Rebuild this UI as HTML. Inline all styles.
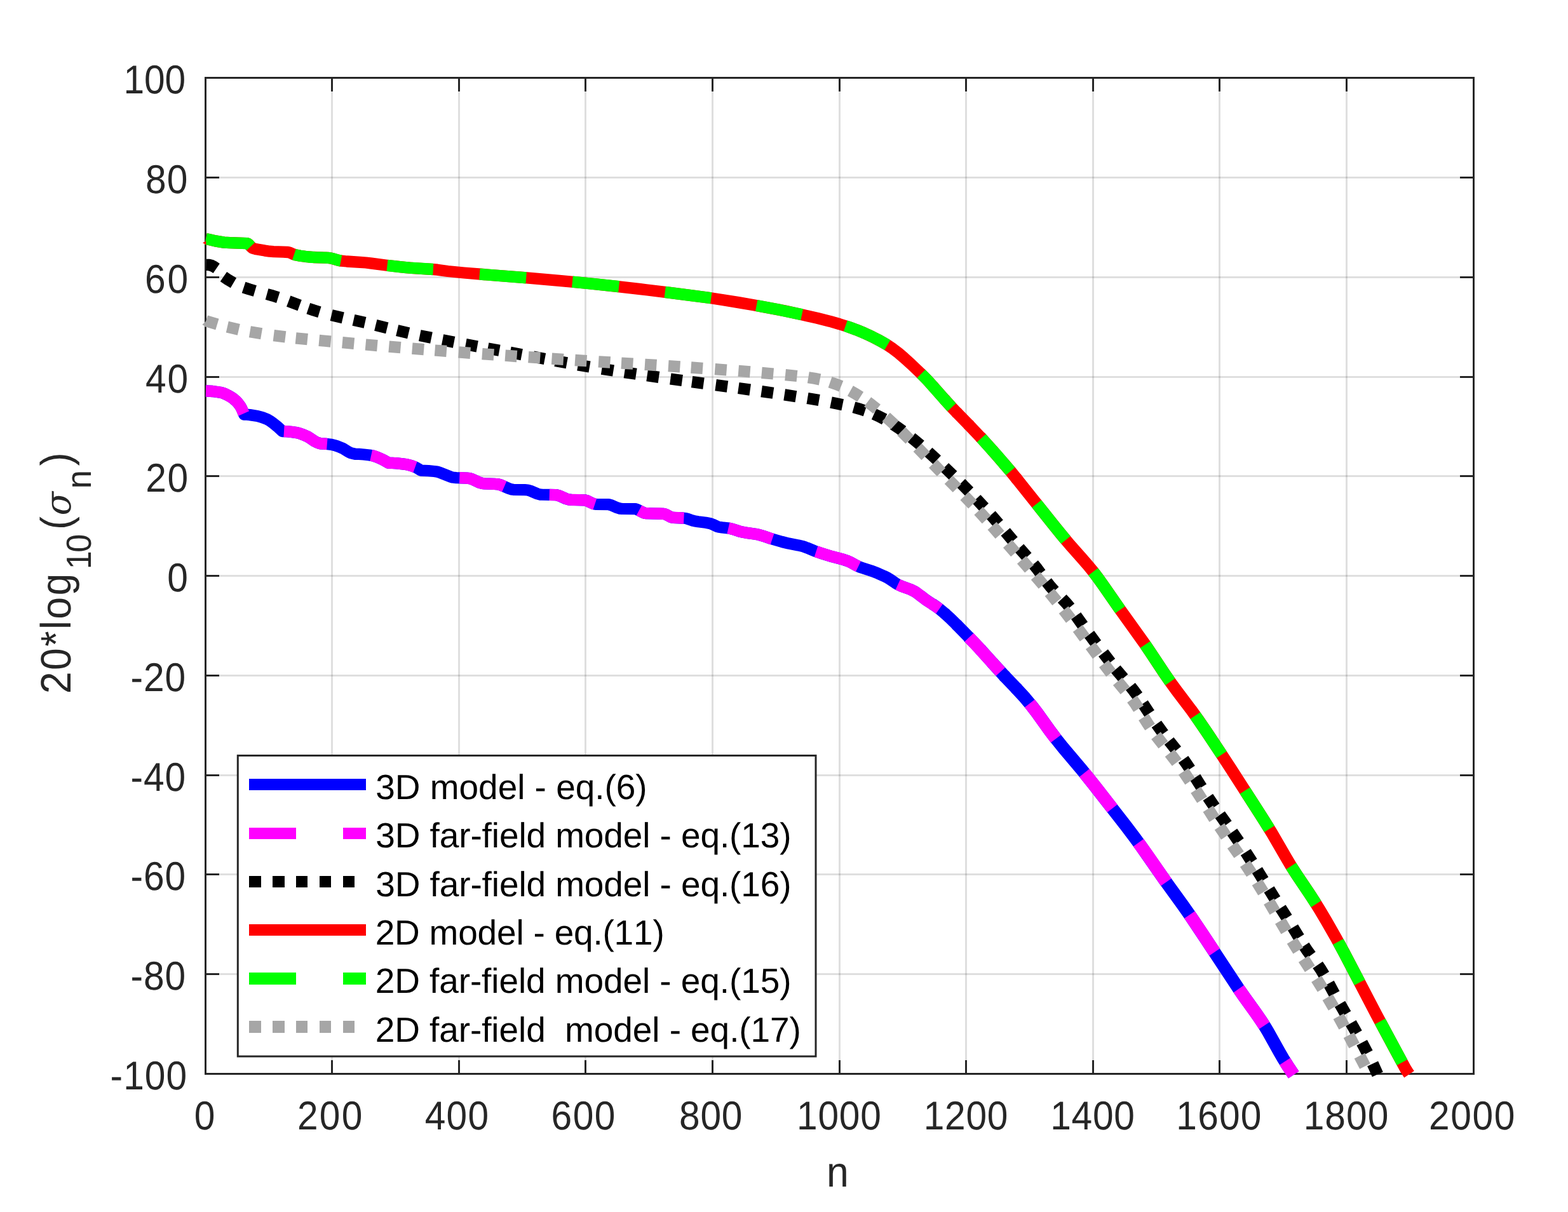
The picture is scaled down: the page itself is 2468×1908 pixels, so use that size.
<!DOCTYPE html>
<html lang="en"><head><meta charset="utf-8"><title>Singular values: 20*log10(sigma_n) versus n</title>
<style>html,body{margin:0;padding:0;background:#fff}body{width:2468px;height:1908px;overflow:hidden}svg{display:block}text{font-family:"Liberation Sans", sans-serif;font-kerning:none;font-variant-ligatures:none;text-rendering:geometricPrecision}</style>
</head><body>
<svg xmlns="http://www.w3.org/2000/svg" width="2468" height="1908" viewBox="0 0 2468 1908">
<rect x="0" y="0" width="2468" height="1908" fill="#ffffff"/>
<g stroke="#262626" stroke-opacity="0.15" stroke-width="3" fill="none">
<line x1="522.5" y1="124.0" x2="522.5" y2="1689.0"/>
<line x1="722.5" y1="124.0" x2="722.5" y2="1689.0"/>
<line x1="921.5" y1="124.0" x2="921.5" y2="1689.0"/>
<line x1="1121.5" y1="124.0" x2="1121.5" y2="1689.0"/>
<line x1="1321.5" y1="124.0" x2="1321.5" y2="1689.0"/>
<line x1="1520.5" y1="124.0" x2="1520.5" y2="1689.0"/>
<line x1="1720.5" y1="124.0" x2="1720.5" y2="1689.0"/>
<line x1="1919.5" y1="124.0" x2="1919.5" y2="1689.0"/>
<line x1="2119.5" y1="124.0" x2="2119.5" y2="1689.0"/>
<line x1="325.0" y1="279.5" x2="2318.0" y2="279.5"/>
<line x1="325.0" y1="436.5" x2="2318.0" y2="436.5"/>
<line x1="325.0" y1="593.5" x2="2318.0" y2="593.5"/>
<line x1="325.0" y1="749.5" x2="2318.0" y2="749.5"/>
<line x1="325.0" y1="906.5" x2="2318.0" y2="906.5"/>
<line x1="325.0" y1="1063.5" x2="2318.0" y2="1063.5"/>
<line x1="325.0" y1="1220.5" x2="2318.0" y2="1220.5"/>
<line x1="325.0" y1="1376.5" x2="2318.0" y2="1376.5"/>
<line x1="325.0" y1="1533.5" x2="2318.0" y2="1533.5"/>
</g>
<g stroke="#262626" stroke-width="3" fill="none">
<rect x="323.5" y="122.5" width="1996.0" height="1568.0"/>
<line x1="522.5" y1="1690.5" x2="522.5" y2="1669.0"/>
<line x1="522.5" y1="122.5" x2="522.5" y2="144.0"/>
<line x1="722.5" y1="1690.5" x2="722.5" y2="1669.0"/>
<line x1="722.5" y1="122.5" x2="722.5" y2="144.0"/>
<line x1="921.5" y1="1690.5" x2="921.5" y2="1669.0"/>
<line x1="921.5" y1="122.5" x2="921.5" y2="144.0"/>
<line x1="1121.5" y1="1690.5" x2="1121.5" y2="1669.0"/>
<line x1="1121.5" y1="122.5" x2="1121.5" y2="144.0"/>
<line x1="1321.5" y1="1690.5" x2="1321.5" y2="1669.0"/>
<line x1="1321.5" y1="122.5" x2="1321.5" y2="144.0"/>
<line x1="1520.5" y1="1690.5" x2="1520.5" y2="1669.0"/>
<line x1="1520.5" y1="122.5" x2="1520.5" y2="144.0"/>
<line x1="1720.5" y1="1690.5" x2="1720.5" y2="1669.0"/>
<line x1="1720.5" y1="122.5" x2="1720.5" y2="144.0"/>
<line x1="1919.5" y1="1690.5" x2="1919.5" y2="1669.0"/>
<line x1="1919.5" y1="122.5" x2="1919.5" y2="144.0"/>
<line x1="2119.5" y1="1690.5" x2="2119.5" y2="1669.0"/>
<line x1="2119.5" y1="122.5" x2="2119.5" y2="144.0"/>
<line x1="323.5" y1="279.5" x2="345.0" y2="279.5"/>
<line x1="2319.5" y1="279.5" x2="2298.0" y2="279.5"/>
<line x1="323.5" y1="436.5" x2="345.0" y2="436.5"/>
<line x1="2319.5" y1="436.5" x2="2298.0" y2="436.5"/>
<line x1="323.5" y1="593.5" x2="345.0" y2="593.5"/>
<line x1="2319.5" y1="593.5" x2="2298.0" y2="593.5"/>
<line x1="323.5" y1="749.5" x2="345.0" y2="749.5"/>
<line x1="2319.5" y1="749.5" x2="2298.0" y2="749.5"/>
<line x1="323.5" y1="906.5" x2="345.0" y2="906.5"/>
<line x1="2319.5" y1="906.5" x2="2298.0" y2="906.5"/>
<line x1="323.5" y1="1063.5" x2="345.0" y2="1063.5"/>
<line x1="2319.5" y1="1063.5" x2="2298.0" y2="1063.5"/>
<line x1="323.5" y1="1220.5" x2="345.0" y2="1220.5"/>
<line x1="2319.5" y1="1220.5" x2="2298.0" y2="1220.5"/>
<line x1="323.5" y1="1376.5" x2="345.0" y2="1376.5"/>
<line x1="2319.5" y1="1376.5" x2="2298.0" y2="1376.5"/>
<line x1="323.5" y1="1533.5" x2="345.0" y2="1533.5"/>
<line x1="2319.5" y1="1533.5" x2="2298.0" y2="1533.5"/>
</g>
<g id="curves" fill="none" stroke-linejoin="round">
<path d="M324.0,615.5 L328.5,615.6 L334.5,616.0 L346.6,617.7 L349.6,618.4 L352.6,619.4 L358.6,622.2 L364.6,625.7 L367.6,627.8 L372.2,631.9 L375.2,635.3 L378.2,639.4 L379.7,642.0 L381.2,645.2 L384.2,652.5 L388.7,652.7 L393.3,653.1 L405.3,655.0 L412.9,657.1 L420.4,660.0 L425.0,662.6 L429.5,665.9 L437.1,672.0 L444.6,679.0 L450.6,679.2 L458.0,679.9 L466.9,681.1 L471.4,682.2 L477.3,684.4 L484.8,687.7 L487.7,689.5 L495.2,694.6 L498.2,696.1 L501.1,697.3 L504.1,698.3 L511.5,698.6 L521.9,699.8 L527.9,701.3 L532.3,702.9 L539.8,706.0 L548.7,711.5 L551.7,712.9 L554.6,713.8 L559.1,714.8 L565.1,714.9 L572.5,715.5 L581.5,716.5 L587.4,717.6 L593.4,719.6 L600.9,722.8 L605.3,725.1 L611.3,728.7 L617.3,728.8 L624.9,729.4 L633.9,730.4 L641.4,731.5 L647.4,733.1 L655.0,736.1 L658.0,737.7 L662.5,740.6 L674.5,741.1 L683.5,742.0 L688.0,742.6 L692.5,744.0 L709.0,750.6 L712.0,751.5 L718.0,752.1 L734.5,752.6 L739.0,753.1 L743.5,754.5 L754.0,759.4 L758.5,760.8 L763.0,761.3 L778.0,761.8 L784.0,762.3 L788.5,763.6 L800.5,768.9 L805.0,770.4 L808.0,770.8 L826.0,771.1 L830.5,771.5 L835.0,772.8 L845.5,777.2 L850.0,778.5 L853.0,778.7 L875.5,779.2 L880.0,780.4 L890.5,785.0 L894.9,786.4 L899.4,786.9 L920.4,787.3 L921.9,787.6 L924.9,788.7 L932.4,792.4 L935.4,793.5 L938.4,793.9 L957.9,794.2 L962.4,795.4 L971.4,799.3 L975.9,800.6 L978.9,800.9 L999.9,801.2 L1001.4,801.6 L1004.4,802.8 L1011.9,806.7 L1014.9,807.7 L1016.4,808.0 L1044.9,808.9 L1047.9,809.8 L1055.4,813.8 L1058.4,814.7 L1062.9,815.1 L1074.9,815.5 L1079.4,816.0 L1082.4,816.8 L1089.9,819.5 L1092.9,820.2 L1098.9,821.2 L1110.9,822.8 L1118.4,824.2 L1121.4,825.4 L1128.9,828.9 L1131.9,829.8 L1136.4,830.4 L1145.4,831.3 L1148.4,831.8 L1152.9,832.9 L1163.4,836.3 L1167.9,837.5 L1173.9,838.6 L1188.9,840.7 L1194.9,841.9 L1200.9,843.7 L1214.4,848.3 L1230.9,853.0 L1241.4,855.6 L1256.4,858.4 L1263.9,860.2 L1269.9,862.3 L1281.9,867.3 L1290.9,870.4 L1310.4,876.4 L1328.4,881.2 L1334.4,883.2 L1338.9,885.3 L1347.9,890.2 L1352.3,892.3 L1356.8,893.9 L1373.3,899.2 L1382.3,902.8 L1391.3,906.8 L1397.3,909.8 L1400.3,911.6 L1409.3,917.8 L1413.8,920.5 L1419.8,923.2 L1433.3,928.0 L1439.3,930.9 L1443.8,933.9 L1451.0,939.4" stroke="#0000ff" stroke-width="18.3"/>
<path d="M1449.0,937.8 L1457.3,944.3 L1469.8,952.4" stroke="#0000ff" stroke-width="18.4"/>
<path d="M1467.8,951.1 L1473.8,955.1 L1478.3,958.4 L1488.5,966.9" stroke="#0000ff" stroke-width="18.6"/>
<path d="M1486.5,965.1 L1496.3,974.1 L1507.2,984.9" stroke="#0000ff" stroke-width="18.8"/>
<path d="M1505.2,982.9 L1526.0,1004.2" stroke="#0000ff" stroke-width="19.0"/>
<path d="M1524.0,1002.2 L1533.8,1012.4 L1544.8,1024.2" stroke="#0000ff" stroke-width="19.3"/>
<path d="M1542.8,1022.0 L1563.5,1045.1" stroke="#0000ff" stroke-width="19.5"/>
<path d="M1561.5,1042.8 L1582.2,1065.5" stroke="#0000ff" stroke-width="19.7"/>
<path d="M1580.2,1063.3 L1601.0,1085.1" stroke="#0000ff" stroke-width="19.9"/>
<path d="M1599.0,1083.0 L1613.3,1098.6 L1623.8,1111.1 L1632.8,1122.9 L1652.3,1150.1 L1661.3,1162.1 L1673.3,1177.0 L1703.3,1212.5 L1721.3,1234.9 L1772.3,1300.4 L1785.8,1318.3 L1796.3,1332.6 L1833.7,1386.2 L1862.2,1425.7 L1874.2,1442.8 L1896.7,1476.3 L1949.2,1556.1 L1958.2,1569.0 L1976.2,1594.0 L1985.2,1607.1 L1991.2,1616.4 L1995.7,1623.9 L2013.7,1656.1 L2019.7,1666.5 L2027.2,1678.5 L2036.2,1692.0" stroke="#0000ff" stroke-width="20.0"/>
<path d="M324.0,615.5 L328.5,615.6 L334.5,616.0 L340.6,616.8 L348.1,618.0 L351.1,618.8 L354.1,620.0 L357.1,621.4 L361.6,623.9 L366.1,626.7 L369.1,629.1 L372.2,631.9 L375.2,635.3 L378.2,639.4 L379.7,642.0 L383.6,651.0" stroke="#ff00ff" stroke-width="18.3"/>
<path d="M447.0,679.0 L453.5,679.4 L461.0,680.2 L466.9,681.1 L471.4,682.2 L477.3,684.4 L484.8,687.7 L487.7,689.5 L495.2,694.6 L498.2,696.1 L501.1,697.3 L504.1,698.3 L508.6,698.4 L514.8,698.9" stroke="#ff00ff" stroke-width="18.3"/>
<path d="M584.2,716.9 L587.4,717.6 L590.4,718.4 L599.4,722.1 L605.3,725.1 L611.3,728.7 L617.3,728.8 L624.9,729.4 L639.9,731.2 L645.9,732.7 L653.4,735.4" stroke="#ff00ff" stroke-width="18.3"/>
<path d="M723.3,752.2 L734.5,752.6 L739.0,753.1 L743.5,754.5 L754.0,759.4 L758.5,760.8 L763.0,761.3 L778.0,761.8 L784.0,762.3 L788.5,763.6 L793.8,765.9" stroke="#ff00ff" stroke-width="18.3"/>
<path d="M864.8,778.9 L874.0,779.1 L877.0,779.5 L881.5,780.9 L891.9,785.5 L896.4,786.7 L918.9,787.3 L921.9,787.6 L924.9,788.7 L932.4,792.4 L936.3,793.7" stroke="#ff00ff" stroke-width="18.3"/>
<path d="M1005.9,803.5 L1011.9,806.7 L1014.9,807.7 L1016.4,808.0 L1020.9,808.2 L1037.4,808.5 L1044.9,808.9 L1047.9,809.8 L1055.4,813.8 L1058.4,814.7 L1076.4,815.6" stroke="#ff00ff" stroke-width="18.3"/>
<path d="M1146.4,831.4 L1152.9,832.9 L1163.4,836.3 L1167.9,837.5 L1173.9,838.6 L1188.9,840.7 L1194.9,841.9 L1200.9,843.7 L1215.5,848.6" stroke="#ff00ff" stroke-width="18.3"/>
<path d="M1284.5,868.2 L1295.4,871.8 L1308.9,875.9 L1326.9,880.7 L1332.9,882.6 L1337.4,884.5 L1347.9,890.2 L1351.0,891.7" stroke="#ff00ff" stroke-width="18.3"/>
<path d="M1413.3,920.2 L1419.8,923.2 L1433.3,928.0 L1439.3,930.9 L1445.3,935.0 L1457.3,944.3 L1472.3,954.1 L1478.5,958.5" stroke="#ff00ff" stroke-width="18.3"/>
<path d="M1525.3,1003.5 L1541.3,1020.5 L1574.8,1057.5" stroke="#ff00ff" stroke-width="19.4"/>
<path d="M1620.8,1107.4 L1631.3,1120.9 L1652.3,1150.1 L1661.9,1162.9" stroke="#ff00ff" stroke-width="20.0"/>
<path d="M1706.8,1216.8 L1725.8,1240.6 L1750.8,1272.7" stroke="#ff00ff" stroke-width="20.0"/>
<path d="M1792.0,1326.7 L1805.3,1345.2 L1835.5,1388.7" stroke="#ff00ff" stroke-width="20.0"/>
<path d="M1872.4,1440.2 L1887.7,1462.7 L1911.7,1498.9" stroke="#ff00ff" stroke-width="20.0"/>
<path d="M1949.7,1556.8 L1958.2,1569.0 L1979.2,1598.3 L1990.0,1614.5" stroke="#ff00ff" stroke-width="20.0"/>
<path d="M2022.4,1671.0 L2028.7,1680.8 L2036.2,1692.0" stroke="#ff00ff" stroke-width="20.0"/>
<path d="M324.6,416.8 L329.0,417.0 L333.0,418.0 L337.0,420.0 L340.7,422.5" stroke="#000000" stroke-width="18.3"/>
<path d="M351.9,435.4 L359.1,440.4 L367.5,445.3" stroke="#000000" stroke-width="18.3"/>
<path d="M383.6,452.5 L392.1,455.3 L401.3,458.0" stroke="#000000" stroke-width="18.3"/>
<path d="M420.1,463.0 L429.6,465.6 L437.8,468.2" stroke="#000000" stroke-width="18.3"/>
<path d="M454.2,474.1 L471.6,480.6" stroke="#000000" stroke-width="18.3"/>
<path d="M485.3,485.6 L494.0,488.5 L502.9,491.2" stroke="#000000" stroke-width="18.3"/>
<path d="M521.7,496.1 L539.7,500.3" stroke="#000000" stroke-width="18.3"/>
<path d="M556.5,503.9 L574.5,507.9" stroke="#000000" stroke-width="18.3"/>
<path d="M591.3,511.9 L609.3,516.3" stroke="#000000" stroke-width="18.3"/>
<path d="M625.2,520.1 L643.2,524.3" stroke="#000000" stroke-width="18.3"/>
<path d="M660.8,528.1 L679.0,531.8" stroke="#000000" stroke-width="18.3"/>
<path d="M696.5,535.2 L714.6,538.7" stroke="#000000" stroke-width="18.3"/>
<path d="M733.0,542.1 L751.2,545.4" stroke="#000000" stroke-width="18.3"/>
<path d="M767.8,548.4 L786.0,551.7" stroke="#000000" stroke-width="18.3"/>
<path d="M803.0,554.8 L821.2,558.2" stroke="#000000" stroke-width="18.3"/>
<path d="M839.3,561.6 L857.5,565.0" stroke="#000000" stroke-width="18.3"/>
<path d="M874.1,568.0 L892.3,571.3" stroke="#000000" stroke-width="18.3"/>
<path d="M909.8,574.4 L928.0,577.5" stroke="#000000" stroke-width="18.3"/>
<path d="M947.3,580.6 L965.5,583.5" stroke="#000000" stroke-width="18.3"/>
<path d="M983.0,586.1 L1001.3,588.8" stroke="#000000" stroke-width="18.3"/>
<path d="M1018.6,591.3 L1037.0,593.9" stroke="#000000" stroke-width="18.3"/>
<path d="M1055.3,596.5 L1073.7,599.0" stroke="#000000" stroke-width="18.3"/>
<path d="M1089.1,601.1 L1107.5,603.6" stroke="#000000" stroke-width="18.3"/>
<path d="M1126.6,606.1 L1145.0,608.6" stroke="#000000" stroke-width="18.3"/>
<path d="M1162.3,611.0 L1180.7,613.6" stroke="#000000" stroke-width="18.3"/>
<path d="M1198.6,616.1 L1217.0,618.8" stroke="#000000" stroke-width="18.3"/>
<path d="M1234.7,621.4 L1252.9,624.2" stroke="#000000" stroke-width="18.3"/>
<path d="M1271.0,627.0 L1289.2,630.1" stroke="#000000" stroke-width="18.3"/>
<path d="M1308.0,633.5 L1326.2,637.2" stroke="#000000" stroke-width="18.3"/>
<path d="M1343.9,641.3 L1353.3,643.9 L1361.6,646.6" stroke="#000000" stroke-width="18.3"/>
<path d="M1375.6,651.9 L1383.3,655.4 L1392.2,660.0" stroke="#000000" stroke-width="18.3"/>
<path d="M1405.8,668.1 L1413.2,673.0 L1421.0,678.5" stroke="#000000" stroke-width="18.3"/>
<path d="M1434.7,689.0 L1448.9,700.8" stroke="#000000" stroke-width="18.3"/>
<path d="M1461.2,711.6 L1474.8,724.1" stroke="#000000" stroke-width="18.3"/>
<path d="M1486.7,735.5 L1500.0,748.4" stroke="#000000" stroke-width="18.4"/>
<path d="M1512.5,760.6 L1525.5,773.8" stroke="#000000" stroke-width="18.5"/>
<path d="M1536.6,785.3 L1549.2,798.9" stroke="#000000" stroke-width="18.5"/>
<path d="M1559.7,810.6 L1571.8,824.5" stroke="#000000" stroke-width="18.6"/>
<path d="M1582.6,837.3 L1594.6,851.5" stroke="#000000" stroke-width="18.7"/>
<path d="M1604.3,862.8 L1616.6,876.6" stroke="#000000" stroke-width="18.7"/>
<path d="M1626.6,888.1 L1632.2,895.0 L1637.9,902.7" stroke="#000000" stroke-width="18.7"/>
<path d="M1647.6,916.1 L1653.2,923.2 L1659.5,930.3" stroke="#000000" stroke-width="18.7"/>
<path d="M1671.7,942.3 L1678.7,949.8 L1683.9,956.2" stroke="#000000" stroke-width="18.7"/>
<path d="M1693.6,969.4 L1704.4,984.5" stroke="#000000" stroke-width="18.7"/>
<path d="M1714.6,998.6 L1725.6,1013.5" stroke="#000000" stroke-width="18.7"/>
<path d="M1736.5,1027.9 L1747.8,1042.6" stroke="#000000" stroke-width="18.7"/>
<path d="M1756.3,1053.4 L1768.2,1067.6" stroke="#000000" stroke-width="18.7"/>
<path d="M1779.4,1080.8 L1785.1,1088.1 L1790.6,1095.5" stroke="#000000" stroke-width="18.7"/>
<path d="M1798.9,1107.6 L1809.1,1123.1" stroke="#000000" stroke-width="18.7"/>
<path d="M1820.3,1139.9 L1831.1,1154.9" stroke="#000000" stroke-width="18.7"/>
<path d="M1840.1,1166.5 L1851.7,1181.0" stroke="#000000" stroke-width="18.7"/>
<path d="M1862.6,1195.3 L1867.6,1202.5 L1873.0,1210.6" stroke="#000000" stroke-width="18.7"/>
<path d="M1881.3,1223.7 L1891.1,1239.4" stroke="#000000" stroke-width="18.7"/>
<path d="M1901.3,1255.0 L1911.6,1270.3" stroke="#000000" stroke-width="18.7"/>
<path d="M1920.2,1282.6 L1931.0,1297.7" stroke="#000000" stroke-width="18.7"/>
<path d="M1939.5,1309.9 L1950.0,1325.1" stroke="#000000" stroke-width="18.7"/>
<path d="M1960.7,1341.5 L1970.7,1357.1" stroke="#000000" stroke-width="18.7"/>
<path d="M1978.8,1369.9 L1988.5,1385.6" stroke="#000000" stroke-width="18.7"/>
<path d="M1997.5,1400.1 L2007.2,1415.9" stroke="#000000" stroke-width="18.7"/>
<path d="M2015.7,1429.5 L2025.6,1445.1" stroke="#000000" stroke-width="18.7"/>
<path d="M2035.0,1460.0 L2044.6,1475.8" stroke="#000000" stroke-width="18.7"/>
<path d="M2052.6,1488.9 L2058.0,1497.1 L2063.1,1504.1" stroke="#000000" stroke-width="18.7"/>
<path d="M2074.1,1519.0 L2079.0,1526.3 L2084.0,1534.6" stroke="#000000" stroke-width="18.7"/>
<path d="M2091.4,1548.3 L2100.2,1564.6" stroke="#000000" stroke-width="18.7"/>
<path d="M2109.0,1580.5 L2118.2,1596.5" stroke="#000000" stroke-width="18.7"/>
<path d="M2126.4,1610.7 L2135.6,1626.8" stroke="#000000" stroke-width="18.7"/>
<path d="M2143.6,1641.4 L2152.3,1657.8" stroke="#000000" stroke-width="18.7"/>
<path d="M2160.6,1674.5 L2168.3,1691.3" stroke="#000000" stroke-width="18.7"/>
<path d="M324.0,376.0 L328.5,376.9 L339.0,379.4 L352.5,381.6 L361.5,382.2 L388.5,383.2 L390.0,383.6 L391.5,384.7 L396.0,389.4 L397.5,390.5 L400.5,391.5 L403.5,392.3 L417.0,394.6 L424.5,395.7 L430.5,396.1 L445.5,396.6 L453.0,397.0 L456.0,397.7 L462.0,400.3 L465.0,401.3 L472.5,402.7 L480.0,403.8 L493.5,405.0 L517.4,405.9 L521.9,406.7 L532.4,409.8 L536.9,410.7 L545.9,411.5 L566.9,412.8 L575.9,413.5 L584.9,414.6 L608.9,417.8 L638.9,421.2 L650.9,422.2 L682.4,424.1 L688.4,424.7 L704.9,427.0 L730.4,429.5 L766.4,432.5 L826.4,437.1 L880.4,441.8 L925.3,446.0 L974.8,451.3 L1007.8,455.1 L1052.8,460.6 L1115.8,468.8 L1138.3,472.2 L1162.3,476.1 L1186.3,480.2 L1211.8,484.9 L1235.8,489.6 L1256.8,494.1 L1286.7,500.9 L1306.2,505.8 L1321.2,510.1 L1334.7,514.4 L1348.2,519.3 L1360.2,524.3 L1372.2,529.9 L1384.2,536.0 L1396.2,542.9 L1405.2,548.9 L1414.2,555.8 L1423.2,563.5 L1433.7,573.0 L1451.0,589.5" stroke="#ff0000" stroke-width="18.3"/>
<path d="M1449.0,587.6 L1459.2,597.9 L1469.8,609.5" stroke="#ff0000" stroke-width="18.3"/>
<path d="M1467.8,607.2 L1488.5,630.8" stroke="#ff0000" stroke-width="18.4"/>
<path d="M1486.5,628.5 L1496.7,639.8 L1507.2,650.9" stroke="#ff0000" stroke-width="18.5"/>
<path d="M1505.2,648.8 L1526.0,670.1" stroke="#ff0000" stroke-width="18.6"/>
<path d="M1524.0,668.0 L1544.8,689.8" stroke="#ff0000" stroke-width="18.6"/>
<path d="M1542.8,687.6 L1563.5,710.5" stroke="#ff0000" stroke-width="18.7"/>
<path d="M1561.5,708.3 L1582.2,732.1" stroke="#ff0000" stroke-width="18.8"/>
<path d="M1580.2,729.8 L1591.2,742.7 L1601.0,754.7" stroke="#ff0000" stroke-width="18.9"/>
<path d="M1599.0,752.2 L1655.6,823.2 L1670.6,841.7 L1684.1,857.8 L1703.6,879.7 L1712.6,890.1 L1720.1,899.3 L1727.6,909.1 L1738.1,923.7 L1762.1,958.3 L1801.1,1012.8 L1810.1,1026.0 L1832.6,1059.9 L1841.6,1073.0 L1852.1,1087.4 L1874.6,1117.1 L1885.1,1131.7 L1901.6,1155.8 L1922.6,1187.4 L1937.6,1210.5 L1990.1,1292.3 L2002.1,1311.8 L2023.1,1348.1 L2032.0,1363.1 L2041.0,1377.1 L2060.5,1406.1 L2068.0,1417.6 L2077.0,1432.1 L2087.5,1449.7 L2102.5,1475.9 L2114.5,1497.7 L2167.0,1598.3 L2194.0,1648.8 L2212.0,1682.0 L2215.0,1686.8 L2218.0,1691.2" stroke="#ff0000" stroke-width="18.9"/>
<path d="M324.0,376.0 L328.5,376.9 L339.0,379.4 L352.5,381.6 L361.5,382.2 L388.5,383.2 L390.0,383.6 L391.5,384.7 L394.6,388.0" stroke="#00ff00" stroke-width="18.3"/>
<path d="M462.9,400.6 L465.0,401.3 L472.5,402.7 L486.0,404.5 L495.0,405.1 L513.0,405.7 L518.9,406.1 L523.4,407.1 L532.4,409.8 L536.6,410.6" stroke="#00ff00" stroke-width="18.3"/>
<path d="M609.5,417.9 L631.4,420.4 L644.9,421.7 L681.8,424.0" stroke="#00ff00" stroke-width="18.3"/>
<path d="M754.9,431.6 L828.2,437.3" stroke="#00ff00" stroke-width="18.3"/>
<path d="M900.9,443.6 L935.8,447.1 L974.2,451.2" stroke="#00ff00" stroke-width="18.3"/>
<path d="M1046.7,459.9 L1085.8,464.8 L1119.3,469.3" stroke="#00ff00" stroke-width="18.3"/>
<path d="M1190.7,481.0 L1228.3,488.1 L1262.2,495.3" stroke="#00ff00" stroke-width="18.3"/>
<path d="M1330.8,513.1 L1339.2,516.0 L1348.2,519.3 L1357.2,523.0 L1364.7,526.3 L1373.7,530.6 L1381.2,534.4 L1388.7,538.5 L1396.8,543.2" stroke="#00ff00" stroke-width="18.3"/>
<path d="M1449.9,588.5 L1456.2,594.8 L1463.7,602.8 L1489.2,631.6 L1498.0,641.2" stroke="#00ff00" stroke-width="18.4"/>
<path d="M1544.7,689.7 L1567.2,714.7 L1590.5,741.9" stroke="#00ff00" stroke-width="18.8"/>
<path d="M1631.7,793.2 L1661.6,830.6 L1677.5,850.0" stroke="#00ff00" stroke-width="18.9"/>
<path d="M1720.7,900.0 L1727.6,909.1 L1735.1,919.5 L1763.2,959.8" stroke="#00ff00" stroke-width="18.9"/>
<path d="M1802.5,1014.8 L1811.6,1028.2 L1832.6,1059.9 L1841.9,1073.4" stroke="#00ff00" stroke-width="18.9"/>
<path d="M1881.4,1126.5 L1898.6,1151.4 L1922.9,1187.9" stroke="#00ff00" stroke-width="18.9"/>
<path d="M1959.5,1244.7 L1984.1,1282.8 L1998.0,1305.1" stroke="#00ff00" stroke-width="18.9"/>
<path d="M2032.2,1363.3 L2042.5,1379.4 L2063.5,1410.6 L2071.5,1423.1" stroke="#00ff00" stroke-width="18.9"/>
<path d="M2106.3,1482.6 L2117.5,1503.4 L2140.1,1546.7" stroke="#00ff00" stroke-width="18.9"/>
<path d="M2172.2,1608.1 L2206.9,1672.6" stroke="#00ff00" stroke-width="18.9"/>
<path d="M324.3,379.5 L319.0,382.3 L324.3,385.3 Z" fill="#ff0000" stroke="none"/>
<path d="M324.2,505.3 L341.9,510.6" stroke="#a6a6a6" stroke-width="18.3"/>
<path d="M357.8,514.7 L375.8,518.8" stroke="#a6a6a6" stroke-width="18.3"/>
<path d="M393.4,522.2 L411.6,525.3" stroke="#a6a6a6" stroke-width="18.3"/>
<path d="M430.8,528.1 L449.2,530.4" stroke="#a6a6a6" stroke-width="18.3"/>
<path d="M465.6,532.3 L484.0,534.1" stroke="#a6a6a6" stroke-width="18.3"/>
<path d="M502.3,535.9 L520.7,537.6" stroke="#a6a6a6" stroke-width="18.3"/>
<path d="M538.9,539.2 L557.3,540.9" stroke="#a6a6a6" stroke-width="18.3"/>
<path d="M575.5,542.5 L593.9,544.1" stroke="#a6a6a6" stroke-width="18.3"/>
<path d="M612.2,545.6 L630.6,547.2" stroke="#a6a6a6" stroke-width="18.3"/>
<path d="M648.8,548.7 L667.2,550.2" stroke="#a6a6a6" stroke-width="18.3"/>
<path d="M684.5,551.5 L702.9,552.9" stroke="#a6a6a6" stroke-width="18.3"/>
<path d="M721.9,554.4 L740.3,555.8" stroke="#a6a6a6" stroke-width="18.3"/>
<path d="M758.9,557.1 L777.3,558.4" stroke="#a6a6a6" stroke-width="18.3"/>
<path d="M795.2,559.7 L813.6,561.0" stroke="#a6a6a6" stroke-width="18.3"/>
<path d="M831.8,562.2 L850.2,563.4" stroke="#a6a6a6" stroke-width="18.3"/>
<path d="M868.5,564.6 L886.9,565.8" stroke="#a6a6a6" stroke-width="18.3"/>
<path d="M905.1,567.0 L923.5,568.2" stroke="#a6a6a6" stroke-width="18.3"/>
<path d="M942.1,569.3 L960.5,570.5" stroke="#a6a6a6" stroke-width="18.3"/>
<path d="M978.0,571.6 L996.4,572.7" stroke="#a6a6a6" stroke-width="18.3"/>
<path d="M1015.0,573.8 L1033.4,575.0" stroke="#a6a6a6" stroke-width="18.3"/>
<path d="M1052.0,576.2 L1070.4,577.4" stroke="#a6a6a6" stroke-width="18.3"/>
<path d="M1087.7,578.5 L1106.1,579.8" stroke="#a6a6a6" stroke-width="18.3"/>
<path d="M1125.3,581.1 L1143.7,582.5" stroke="#a6a6a6" stroke-width="18.3"/>
<path d="M1162.3,583.9 L1180.7,585.4" stroke="#a6a6a6" stroke-width="18.3"/>
<path d="M1198.9,586.9 L1217.3,588.5" stroke="#a6a6a6" stroke-width="18.3"/>
<path d="M1236.1,590.2 L1254.5,592.0" stroke="#a6a6a6" stroke-width="18.3"/>
<path d="M1272.3,594.2 L1282.2,595.8 L1290.5,597.4" stroke="#a6a6a6" stroke-width="18.3"/>
<path d="M1306.6,601.6 L1315.2,604.6 L1323.9,608.1" stroke="#a6a6a6" stroke-width="18.3"/>
<path d="M1338.4,615.3 L1346.7,620.0 L1354.2,624.8" stroke="#a6a6a6" stroke-width="18.3"/>
<path d="M1365.6,632.6 L1372.2,637.6 L1380.2,644.0" stroke="#a6a6a6" stroke-width="18.3"/>
<path d="M1394.7,656.4 L1408.4,668.9" stroke="#a6a6a6" stroke-width="18.3"/>
<path d="M1418.8,679.0 L1431.9,692.1" stroke="#a6a6a6" stroke-width="18.3"/>
<path d="M1444.2,704.6 L1457.0,717.9" stroke="#a6a6a6" stroke-width="18.3"/>
<path d="M1468.7,730.0 L1481.5,743.3" stroke="#a6a6a6" stroke-width="18.4"/>
<path d="M1493.3,755.4 L1506.3,768.6" stroke="#a6a6a6" stroke-width="18.4"/>
<path d="M1518.1,780.8 L1530.9,794.2" stroke="#a6a6a6" stroke-width="18.5"/>
<path d="M1540.3,804.2 L1552.7,817.9" stroke="#a6a6a6" stroke-width="18.6"/>
<path d="M1561.5,827.9 L1573.7,841.8" stroke="#a6a6a6" stroke-width="18.6"/>
<path d="M1586.0,856.1 L1598.2,870.1" stroke="#a6a6a6" stroke-width="18.7"/>
<path d="M1608.0,881.4 L1620.2,895.4" stroke="#a6a6a6" stroke-width="18.7"/>
<path d="M1629.9,906.6 L1641.9,920.7" stroke="#a6a6a6" stroke-width="18.7"/>
<path d="M1651.9,932.7 L1663.6,947.0" stroke="#a6a6a6" stroke-width="18.7"/>
<path d="M1674.1,960.1 L1685.4,974.8" stroke="#a6a6a6" stroke-width="18.7"/>
<path d="M1696.3,989.2 L1707.3,1004.1" stroke="#a6a6a6" stroke-width="18.7"/>
<path d="M1716.4,1016.5 L1727.4,1031.4" stroke="#a6a6a6" stroke-width="18.7"/>
<path d="M1737.4,1044.8 L1748.6,1059.5" stroke="#a6a6a6" stroke-width="18.7"/>
<path d="M1759.1,1072.7 L1770.9,1086.9" stroke="#a6a6a6" stroke-width="18.7"/>
<path d="M1781.8,1100.5 L1787.6,1108.7 L1792.1,1115.8" stroke="#a6a6a6" stroke-width="18.7"/>
<path d="M1800.1,1129.0 L1805.6,1137.9 L1810.1,1144.7" stroke="#a6a6a6" stroke-width="18.7"/>
<path d="M1819.5,1157.9 L1830.9,1172.6" stroke="#a6a6a6" stroke-width="18.7"/>
<path d="M1841.1,1185.5 L1852.3,1200.2" stroke="#a6a6a6" stroke-width="18.7"/>
<path d="M1862.7,1214.6 L1873.1,1229.9" stroke="#a6a6a6" stroke-width="18.7"/>
<path d="M1882.1,1243.5 L1892.1,1259.0" stroke="#a6a6a6" stroke-width="18.7"/>
<path d="M1901.4,1273.3 L1911.4,1288.9" stroke="#a6a6a6" stroke-width="18.7"/>
<path d="M1919.5,1301.2 L1929.9,1316.5" stroke="#a6a6a6" stroke-width="18.7"/>
<path d="M1939.5,1330.4 L1950.1,1345.5" stroke="#a6a6a6" stroke-width="18.7"/>
<path d="M1959.7,1359.6 L1969.9,1375.1" stroke="#a6a6a6" stroke-width="18.7"/>
<path d="M1978.6,1388.8 L1988.3,1404.6" stroke="#a6a6a6" stroke-width="18.7"/>
<path d="M1997.2,1419.3 L2006.6,1435.3" stroke="#a6a6a6" stroke-width="18.7"/>
<path d="M2015.1,1449.7 L2024.5,1465.7" stroke="#a6a6a6" stroke-width="18.7"/>
<path d="M2033.6,1480.9 L2043.4,1496.6" stroke="#a6a6a6" stroke-width="18.7"/>
<path d="M2051.8,1509.6 L2061.8,1525.1" stroke="#a6a6a6" stroke-width="18.7"/>
<path d="M2072.1,1541.0 L2081.8,1556.7" stroke="#a6a6a6" stroke-width="18.7"/>
<path d="M2089.7,1570.0 L2099.0,1586.0" stroke="#a6a6a6" stroke-width="18.7"/>
<path d="M2106.8,1599.9 L2115.7,1616.2" stroke="#a6a6a6" stroke-width="18.7"/>
<path d="M2123.0,1629.6 L2131.6,1646.0" stroke="#a6a6a6" stroke-width="18.7"/>
<path d="M2140.0,1662.1 L2148.5,1678.5" stroke="#a6a6a6" stroke-width="18.7"/>
<path d="M324.3,505.5 L318.4,511.1 L324.3,514.8 Z" fill="#a6a6a6" stroke="none"/>
</g>
<g id="ticklabels">
<text transform="translate(305.71,1777.60) scale(0.9270,1)" font-size="63.3" fill="#262626">0</text>
<text transform="translate(468.05,1777.60) scale(0.9270,1)" font-size="63.3" fill="#262626" letter-spacing="2.341">200</text>
<text transform="translate(668.65,1777.60) scale(0.9270,1)" font-size="63.3" fill="#262626" letter-spacing="1.367">400</text>
<text transform="translate(867.62,1777.60) scale(0.9270,1)" font-size="63.3" fill="#262626" letter-spacing="1.601">600</text>
<text transform="translate(1069.05,1777.60) scale(0.9270,1)" font-size="63.3" fill="#262626" letter-spacing="0.830">800</text>
<text transform="translate(1254.03,1777.60) scale(0.9270,1)" font-size="63.3" fill="#262626" letter-spacing="0.800">1000</text>
<text transform="translate(1453.73,1777.60) scale(0.9270,1)" font-size="63.3" fill="#262626" letter-spacing="0.800">1200</text>
<text transform="translate(1653.23,1777.60) scale(0.9270,1)" font-size="63.3" fill="#262626" letter-spacing="0.800">1400</text>
<text transform="translate(1851.33,1777.60) scale(0.9270,1)" font-size="63.3" fill="#262626" letter-spacing="1.267">1600</text>
<text transform="translate(2051.63,1777.60) scale(0.9270,1)" font-size="63.3" fill="#262626" letter-spacing="1.159">1800</text>
<text transform="translate(2248.95,1777.60) scale(0.9270,1)" font-size="63.3" fill="#262626" letter-spacing="1.764">2000</text>
<text transform="translate(194.53,146.90) scale(0.9270,1)" font-size="63.3" fill="#262626" letter-spacing="-0.130">100</text>
<text transform="translate(229.05,303.90) scale(0.9270,1)" font-size="63.3" fill="#262626" letter-spacing="1.158">80</text>
<text transform="translate(228.12,460.90) scale(0.9270,1)" font-size="63.3" fill="#262626" letter-spacing="2.916">60</text>
<text transform="translate(228.95,617.90) scale(0.9270,1)" font-size="63.3" fill="#262626" letter-spacing="2.017">40</text>
<text transform="translate(229.35,773.90) scale(0.9270,1)" font-size="63.3" fill="#262626" letter-spacing="1.590">20</text>
<text transform="translate(263.31,930.90) scale(0.9270,1)" font-size="63.3" fill="#262626">0</text>
<text transform="translate(205.39,1087.90) scale(0.9270,1)" font-size="63.3" fill="#262626" letter-spacing="1.073">-20</text>
<text transform="translate(205.39,1244.90) scale(0.9270,1)" font-size="63.3" fill="#262626" letter-spacing="1.073">-40</text>
<text transform="translate(205.39,1400.90) scale(0.9270,1)" font-size="63.3" fill="#262626" letter-spacing="1.073">-60</text>
<text transform="translate(205.39,1557.90) scale(0.9270,1)" font-size="63.3" fill="#262626" letter-spacing="1.073">-80</text>
<text transform="translate(173.59,1714.90) scale(0.9270,1)" font-size="63.3" fill="#262626" letter-spacing="1.099">-100</text>
</g>
<g id="labels">
<text transform="translate(1300.94,1867.90) scale(0.9340,1)" font-size="67.0" fill="#262626">n</text>
<g transform="translate(111.3,1090) rotate(-90)">
<text transform="translate(-2.15,0.00) scale(0.9340,1)" font-size="67.0" fill="#262626" letter-spacing="2.551">20*log</text>
<text transform="translate(193.72,32.00) scale(0.9500,1)" font-size="55.0" fill="#262626" letter-spacing="-2.734">10</text>
<text transform="translate(256.12,0.00) scale(0.9340,1)" font-size="67.0" fill="#262626">(</text>
<text transform="translate(278.42,0) scale(0.97,1)" font-size="56.5" style='font-family:"DejaVu Serif","Liberation Serif",serif;font-style:italic' fill="#262626">&#963;</text>
<text transform="translate(320.73,32.00) scale(0.9500,1)" font-size="55.0" fill="#262626">n</text>
<text transform="translate(356.63,0.00) scale(0.9340,1)" font-size="67.0" fill="#262626">)</text>
</g>
</g>
<g id="legend">
<rect x="374.30" y="1189.45" width="909.70" height="473.55" fill="#ffffff" stroke="#262626" stroke-width="3"/>
<path d="M392,1226H576V1244H392Z" fill="#0000ff"/>
<text transform="translate(591.31,1257.70) scale(1.0000,1)" font-size="55.0" fill="#000000" letter-spacing="-0.040" xml:space="preserve">3D model - eq.(6)</text>
<path d="M392,1303H466V1321H392ZM540,1303H576V1321H540Z" fill="#ff00ff"/>
<text transform="translate(591.31,1334.10) scale(1.0000,1)" font-size="55.0" fill="#000000" letter-spacing="-0.111" xml:space="preserve">3D far-field model - eq.(13)</text>
<path d="M392,1379H411V1397H392ZM429,1379H448V1397H429ZM466,1379H484V1397H466ZM503,1379H521V1397H503ZM540,1379H558V1397H540Z" fill="#000000"/>
<text transform="translate(591.31,1410.50) scale(1.0000,1)" font-size="55.0" fill="#000000" letter-spacing="-0.111" xml:space="preserve">3D far-field model - eq.(16)</text>
<path d="M392,1455H576V1473H392Z" fill="#ff0000"/>
<text transform="translate(590.63,1486.90) scale(1.0000,1)" font-size="55.0" fill="#000000" letter-spacing="-0.203" xml:space="preserve">2D model - eq.(11)</text>
<path d="M392,1531H466V1550H392ZM540,1531H576V1550H540Z" fill="#00ff00"/>
<text transform="translate(590.63,1563.30) scale(1.0000,1)" font-size="55.0" fill="#000000" letter-spacing="-0.086" xml:space="preserve">2D far-field model - eq.(15)</text>
<path d="M392,1607H411V1626H392ZM429,1607H448V1626H429ZM466,1607H484V1626H466ZM503,1607H521V1626H503ZM540,1607H558V1626H540Z" fill="#a6a6a6"/>
<text transform="translate(590.63,1639.70) scale(1.0000,1)" font-size="55.0" fill="#000000" letter-spacing="-0.079" xml:space="preserve">2D far-field&#160; model - eq.(17)</text>
</g>
</svg>
</body></html>
